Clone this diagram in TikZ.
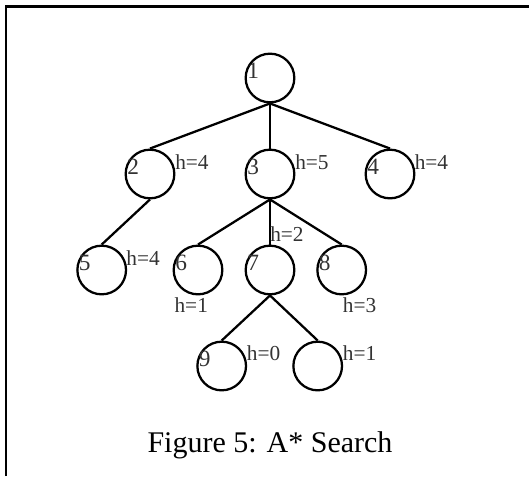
\documentclass[tikz,border=0pt]{standalone}
\usepackage{fontspec}
\setmainfont{Liberation Serif}
\usetikzlibrary{calc}
\definecolor{inkc}{HTML}{333333}
\tikzset{
  tnode/.style={circle,draw,line width=1.7pt,minimum size=36.5pt,inner sep=0pt},
  link/.style={line width=1.7pt},
  num/.style={anchor=base west,inner sep=0pt,text=inkc,font=\fontsize{17.5}{20}\selectfont},
  hval/.style={anchor=base west,inner sep=0pt,text=inkc,font=\fontsize{16}{18}\selectfont}
}

\begin{document}
\begin{tikzpicture}[x=0.75pt,y=-0.75pt]
\useasboundingbox (0,0) rectangle (529,476);
\draw[line width=1.8pt] (6,476) |- (529,6.5);
% search tree
\foreach \n/\x/\y in {1/270/78,2/150/174,3/270/174,4/390/174,5/101.7/270,6/198/270,7/270/270,8/341.7/270,9/221.7/366,10/317.7/366}
  \node[tnode] (n\n) at (\x,\y) {};
\foreach \a/\b in {1/2,1/3,1/4,2/5,3/6,3/7,3/8,7/9,7/10}
  \draw[link] (n\a.south) -- (n\b.north);
% node numbers, the last leaf has none
\foreach \n in {1,...,9}
  \node[num] (t\n) at ($(n\n)+(-23,0)$) {\n};
% heuristic values
\foreach \n/\dx/\dy/\h in {2/25/-5/4,3/25/-5/5,4/24.5/-5/4,5/24.5/-5/4,6/-23.7/42.7/1,7/0/-28.3/2,8/1/42.7/3,9/25/-5.3/0,10/25/-5.3/1}
  \node[hval] (h\n) at ($(n\n)+(\dx,\dy)$) {h=\h};
\node[font=\fontsize{22.5}{26}\selectfont,anchor=base] (cap) at (270,452) {Figure 5: A* Search};
\end{tikzpicture}
\end{document}
